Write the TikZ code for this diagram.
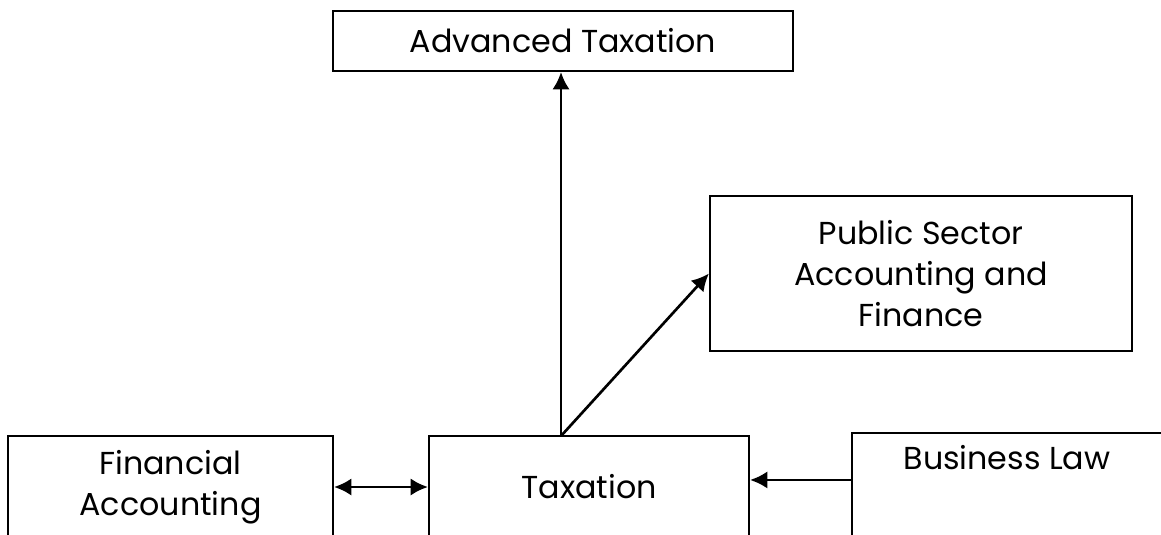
\documentclass[tikz,border=0pt]{standalone}
\usepackage{fontspec}
\setmainfont{Poppins}
\usetikzlibrary{arrows.meta}

\begin{document}
\begin{tikzpicture}
  [x=0.75pt, y=-0.75pt,
    every node/.style={draw, line width=1.6pt, rectangle, inner sep=0pt, align=center,
      font=\fontsize{23.8}{30.75}\selectfont},
    link/.style={line width=2pt, -{Latex[length=13pt,width=13pt]}},
    both/.style={line width=2pt, {Latex[length=13pt,width=13pt]}-{Latex[length=13pt,width=13pt]}},
  ]
  \useasboundingbox (0,0) rectangle (1161,535);
  \clip (0,0) rectangle (1161,535);

  \node (adv) [minimum width=345pt, minimum height=45pt] at (563,41) {Advanced Taxation};
  \node (pub) [minimum width=316.5pt, minimum height=116.25pt] at (921,273.5)
    {Public Sector\\Accounting and\\Finance};
  \node (tax) [minimum width=240pt, minimum height=76.5pt] at (589,487) {Taxation};
  \node (fin) [minimum width=243.75pt, minimum height=76.5pt] at (170.5,487)
    {Financial\\Accounting};
  \node (bus) [minimum width=232.5pt, minimum height=77.25pt] at (1007,484.5)
    {Business Law\\ \strut};

  \coordinate (fork) at (561,436);

  \draw[link] (fork) -- (fork |- adv.south);
  \draw[link] (fork) -- (pub.west);
  \draw[both] (fin.east) -- (tax.west);
  \draw[link] ([yshift=3.4pt]bus.west) -- ([yshift=3.4pt]bus.west -| tax.east);
\end{tikzpicture}
\end{document}
